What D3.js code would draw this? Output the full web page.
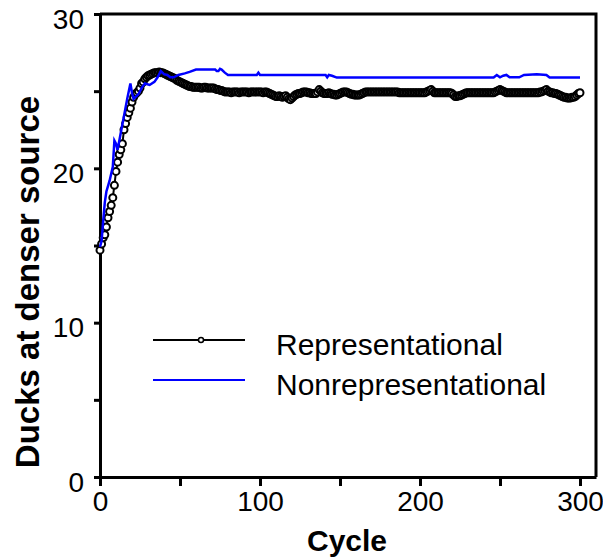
<!DOCTYPE html>
<html>
<head>
<meta charset="utf-8">
<script src="https://cdn.jsdelivr.net/npm/d3@7"></script>
<style>
  body { margin: 0; background: #fff; }
  svg text { font-family: "Liberation Sans", Arial, sans-serif; }
</style>
</head>
<body>
<div id="chart"></div>
<script>
// data
var seriesNames = ["Representational", "Nonrepresentational"];

// representational: one value per cycle, 0..300
var repValues = [
  14.7, 15.1, 15.5, 15.7, 16.2, 16.8, 17.2, 17.6, 18.1, 18.9,
  19.8, 20.4, 20.9, 21.2, 21.6, 22.5, 22.9, 23.3, 23.6, 23.9,
  24.3, 24.6, 24.8, 24.9, 25.0, 25.2, 25.5, 25.6, 25.8, 25.9,
  26.0, 26.05, 26.1, 26.15, 26.2, 26.2, 26.2, 26.25, 26.2, 26.2,
  26.15, 26.1, 26.05, 26.0, 25.95, 25.9, 25.85, 25.8, 25.7, 25.65,
  25.6, 25.55, 25.5, 25.45, 25.4, 25.35, 25.3, 25.3, 25.25, 25.25,
  25.25, 25.25, 25.25, 25.2, 25.2, 25.25, 25.25, 25.2, 25.2, 25.2,
  25.2, 25.2, 25.15, 25.1, 25.1, 25.05, 25.05, 25.0, 24.95, 24.95,
  24.95, 24.95, 24.9, 24.95, 24.95, 24.95, 24.95, 24.9, 24.95, 24.95,
  24.95, 24.95, 24.95, 24.9, 24.95, 24.95, 24.95, 24.95, 24.95, 24.95,
  24.95, 24.95, 24.9, 24.95, 24.95, 24.9, 24.85, 24.8, 24.75, 24.7,
  24.65, 24.65, 24.7, 24.65, 24.6, 24.65, 24.7, 24.6, 24.5, 24.45,
  24.55, 24.65, 24.75, 24.8, 24.85, 24.85, 24.9, 24.95, 24.95, 24.95,
  24.9, 24.9, 24.85, 24.85, 24.85, 24.85, 24.95, 25.1, 25.0, 24.9,
  24.85, 24.85, 24.85, 24.9, 24.85, 24.8, 24.8, 24.75, 24.75, 24.8,
  24.85, 24.9, 24.95, 24.95, 24.95, 24.9, 24.85, 24.8, 24.8, 24.75,
  24.75, 24.75, 24.75, 24.8, 24.85, 24.9, 24.95, 24.95, 24.95, 24.95,
  24.95, 24.95, 24.95, 24.95, 24.95, 24.95, 24.95, 24.95, 24.95, 24.95,
  24.95, 24.95, 24.95, 24.95, 24.95, 24.95, 24.95, 24.9, 24.9, 24.9,
  24.9, 24.9, 24.9, 24.9, 24.9, 24.9, 24.9, 24.9, 24.9, 24.9,
  24.9, 24.9, 24.9, 24.9, 24.95, 25.0, 25.05, 25.1, 25.0, 24.9,
  24.9, 24.9, 24.9, 24.9, 24.9, 24.9, 24.9, 24.9, 24.9, 24.9,
  24.85, 24.75, 24.65, 24.65, 24.7, 24.7, 24.75, 24.8, 24.85, 24.9,
  24.9, 24.9, 24.9, 24.9, 24.9, 24.9, 24.9, 24.9, 24.9, 24.9,
  24.9, 24.9, 24.9, 24.9, 24.9, 24.9, 24.9, 24.95, 25.0, 25.05,
  25.1, 25.05, 25.0, 24.95, 24.9, 24.9, 24.9, 24.9, 24.9, 24.9,
  24.9, 24.9, 24.9, 24.9, 24.9, 24.9, 24.9, 24.9, 24.9, 24.9,
  24.9, 24.9, 24.9, 24.9, 24.9, 24.95, 24.95, 25.0, 25.05, 25.1,
  25.0, 24.95, 24.9, 24.9, 24.85, 24.85, 24.8, 24.75, 24.7, 24.65,
  24.6, 24.6, 24.55, 24.55, 24.55, 24.6, 24.6, 24.65, 24.75, 24.85,
  24.9
];
var repCycles = d3.range(repValues.length);

// nonrepresentational: line vertices
var nonrepCycles = [0, 1, 2, 3, 4, 6, 8, 9, 10, 11, 13, 15, 17, 19, 20, 21, 24, 26, 28, 31,
  34, 36, 38, 40, 42, 44, 46, 49, 53, 56, 60, 72, 73, 74, 75, 76, 78, 80, 98, 99,
  100, 141, 142, 143, 145, 148, 246, 248, 250, 252, 254, 256, 262, 265, 273, 279, 281, 300];
var nonrepValues = [14.9, 15.3, 16.6, 17.8, 18.5, 19.2, 20.1, 21.8, 21.6, 21.2, 22.3, 23.4, 24.5, 25.5, 24.9, 24.5, 24.8, 25.2, 25.5, 25.4,
  25.6, 25.9, 26.3, 26.1, 26.05, 25.9, 25.9, 26.05, 26.15, 26.25, 26.4, 26.4, 26.3, 26.3, 26.45, 26.4, 26.2, 26.05, 26.05, 26.2,
  26.05, 26.05, 25.9, 26.05, 26.0, 25.88, 25.88, 26.05, 25.9, 26.0, 26.05, 25.9, 25.9, 26.05, 26.1, 26.05, 25.88, 25.88];

var xTicks = [0, 50, 100, 150, 200, 250, 300];
var yTicks = [0, 5, 10, 15, 20, 25, 30];

function drawChart() {
    var width = 603, height = 559;
    var plotLeft = 100, plotRight = 596, plotTop = 14, plotBottom = 477;
    var fontSize = 28;

    var svg = d3.select("#chart").append("svg")
        .attr("width", width)
        .attr("height", height);

    var x = d3.scaleLinear().domain([0, 310]).range([plotLeft, plotRight]);
    var y = d3.scaleLinear().domain([0, 30]).range([plotBottom, plotTop]);

    // frame top + right
    svg.append("path")
        .attr("d", "M" + x(0) + "," + y(30) + "H" + x(310) + "V" + y(0))
        .attr("fill", "none")
        .attr("stroke", "#000")
        .attr("stroke-width", 3);

    // x axis
    var xAxis = svg.append("g")
        .attr("transform", "translate(0," + plotBottom + ")")
        .call(d3.axisBottom(x).tickValues(xTicks)
            .tickFormat(function(d) { return d % 100 === 0 ? d : ""; })
            .tickSize(9).tickSizeOuter(0).tickPadding(5));

    // y axis
    var yAxis = svg.append("g")
        .attr("transform", "translate(" + plotLeft + ",0)")
        .call(d3.axisLeft(y).tickValues(yTicks)
            .tickFormat(function(d) { return d % 10 === 0 ? d : ""; })
            .tickSize(6).tickSizeOuter(0).tickPadding(10));

    [xAxis, yAxis].forEach(function(a) {
        a.select(".domain").attr("stroke-width", 3);
        a.selectAll(".tick line").attr("stroke-width", 3);
        a.selectAll("text").attr("font-size", fontSize).attr("fill", "#000")
            .style("font-family", "'Liberation Sans', Arial, sans-serif");
    });
    yAxis.selectAll("text").attr("dy", "0.5em");

    // axis titles
    svg.append("text")
        .attr("x", 347)
        .attr("y", 551)
        .attr("text-anchor", "middle")
        .attr("font-size", 30)
        .attr("font-weight", "bold")
        .text("Cycle");

    svg.append("text")
        .attr("transform", "translate(39,282) rotate(-90)")
        .attr("text-anchor", "middle")
        .attr("font-size", 33)
        .attr("font-weight", "bold")
        .text("Ducks at denser source");

    var line = d3.line()
        .x(function(d) { return x(d[0]); })
        .y(function(d) { return y(d[1]); });

    var repData = repCycles.map(function(c, i) { return [c, repValues[i]]; });
    var nonrepData = nonrepCycles.map(function(c, i) { return [c, nonrepValues[i]]; });

    // representational: line + open circles
    svg.append("path")
        .datum(repData)
        .attr("d", line)
        .attr("fill", "none")
        .attr("stroke", "#000")
        .attr("stroke-width", 2);

    svg.append("g").selectAll("circle")
        .data(repData)
        .enter()
        .append("circle")
        .attr("cx", function(d) { return x(d[0]); })
        .attr("cy", function(d) { return y(d[1]); })
        .attr("r", 3.5)
        .attr("fill", "#fff")
        .attr("stroke", "#000")
        .attr("stroke-width", 2);

    svg.append("path")
        .datum(nonrepData)
        .attr("d", line)
        .attr("fill", "none")
        .attr("stroke", "#0000ff")
        .attr("stroke-width", 2.5);

    // legend
    var legend = svg.append("g");
    var legendColors = ["#000", "#0000ff"];
    seriesNames.forEach(function(name, i) {
        var ly = 340 + i * 40;
        legend.append("line")
            .attr("x1", 153).attr("x2", 245)
            .attr("y1", ly).attr("y2", ly)
            .attr("stroke", legendColors[i])
            .attr("stroke-width", 2);
        if (i === 0) {
            legend.append("circle")
                .attr("cx", 201).attr("cy", ly).attr("r", 2.5)
                .attr("fill", "#fff").attr("stroke", "#000").attr("stroke-width", 1.5);
        }
        legend.append("text")
            .attr("x", 276)
            .attr("y", ly + 15)
            .attr("font-size", 30)
            .text(name);
    });
}

drawChart();
</script>
</body>
</html>
